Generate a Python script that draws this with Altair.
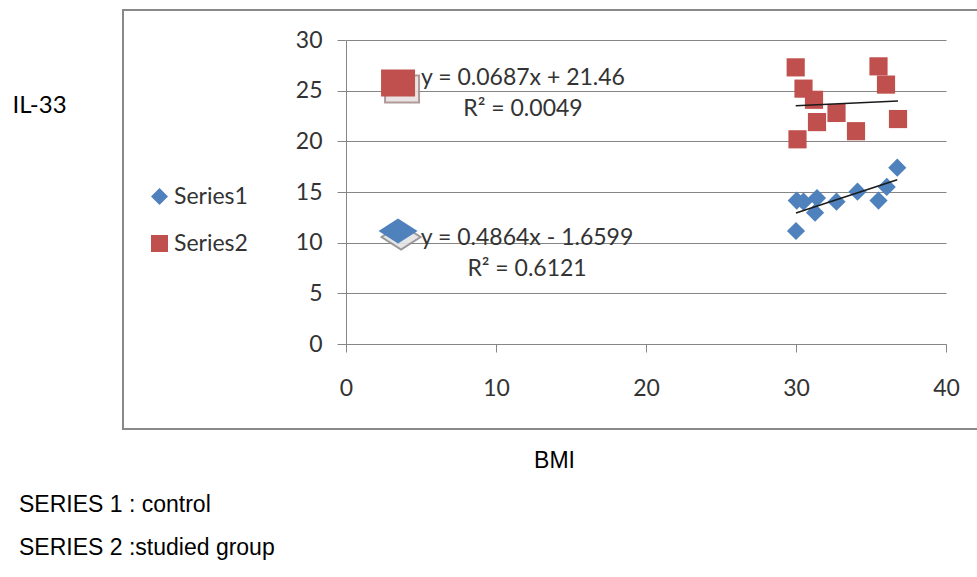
import altair as alt
import pandas as pd

# ---- data ----
series_names = ["Series1", "Series2"]
series_colors = ["#4F81BD", "#C0504D"]

bmi_s1 = [30.0, 30.05, 30.5, 31.27, 31.4, 32.7, 34.1, 35.5, 36.05, 36.75]
il33_s1 = [11.15, 14.15, 14.05, 12.96, 14.4, 14.05, 15.03, 14.15, 15.5, 17.4]

bmi_s2 = [29.98, 30.5, 31.2, 31.4, 30.1, 32.7, 34.0, 35.5, 36.0, 36.8]
il33_s2 = [27.3, 25.2, 24.1, 21.9, 20.2, 22.8, 21.0, 27.4, 25.6, 22.2]

slopes = [0.4864, 0.0687]
intercepts = [-1.6599, 21.46]
r_squared = [0.6121, 0.0049]

# trendline-label anchors (data units, as placed in the original chart)
key_x = [3.47, 3.47]
key_y = [11.15, 25.76]
label_x = [12.07, 11.8]
label_y = [9.77, 25.56]

x_ticks = [0, 10, 20, 30, 40]
y_ticks = [0, 5, 10, 15, 20, 25, 30]

notes = ["SERIES 1 : control", "SERIES 2 :studied group"]

# ---- tables ----
pts = pd.DataFrame({
    "BMI": bmi_s1 + bmi_s2,
    "IL33": il33_s1 + il33_s2,
    "series": [series_names[0]] * len(bmi_s1) + [series_names[1]] * len(bmi_s2),
})

trend_rows = []
for name, xs, m, b in zip(series_names, [bmi_s1, bmi_s2], slopes, intercepts):
    for xv in (min(xs), max(xs)):
        trend_rows.append({"series": name, "BMI": xv, "IL33": m * xv + b})
trend = pd.DataFrame(trend_rows)


def eq_text(m, b, r2):
    sign = "+" if b >= 0 else "-"
    return f"y = {m:.4f}x {sign} {abs(b):g}\nR\u00b2 = {r2:.4f}"


labels = pd.DataFrame({
    "series": series_names,
    "kx": key_x, "ky": key_y,
    "lx": label_x, "ly": label_y,
    "txt": [eq_text(m, b, r) for m, b, r in zip(slopes, intercepts, r_squared)],
})

FONT = "Lato"
GRID = "#868686"

xscale = alt.Scale(domain=[0, 40], nice=False, zero=False)
yscale = alt.Scale(domain=[0, 30], nice=False)

x_axis = alt.Axis(
    values=x_ticks, grid=False, domainColor=GRID, tickColor=GRID, tickSize=8,
    labelFont=FONT, labelFontSize=23, labelColor="#333333", labelPadding=25,
    labelFlush=False,
    title="BMI", titleFont="Liberation Sans", titleFontSize=23,
    titleFontWeight="normal", titleColor="#000000",
    titleX=208, titleY=123, titleAlign="center", titleBaseline="alphabetic",
)
y_axis = alt.Axis(
    values=y_ticks, grid=True, gridColor=GRID, domainColor=GRID, tickColor=GRID,
    tickSize=9, labelFont=FONT, labelFontSize=23, labelColor="#333333",
    labelPadding=15, labelFlush=False,
    title="IL-33", titleFont=FONT, titleFontSize=24, titleFontWeight="normal",
    titleColor="#000000", titleAngle=0, titleX=-334, titleY=72,
    titleAlign="left", titleBaseline="alphabetic",
)

legend = alt.Legend(
    title=None, orient="none", legendX=-198, legendY=145,
    labelFont=FONT, labelFontSize=23, labelColor="#333333",
    symbolSize=289, rowPadding=23, labelOffset=3,
)

frame = alt.Chart(alt.Data(values=[{}])).mark_rect(
    fill="transparent", stroke="#898989", strokeWidth=2
).encode(
    x=alt.value(-223), x2=alt.value(660), y=alt.value(-30), y2=alt.value(389)
)

points = alt.Chart(pts).mark_point(filled=True, opacity=1, size=330).encode(
    x=alt.X("BMI:Q", scale=xscale, axis=x_axis),
    y=alt.Y("IL33:Q", scale=yscale, axis=y_axis),
    color=alt.Color(
        "series:N",
        scale=alt.Scale(domain=series_names, range=series_colors),
        legend=legend,
    ),
    shape=alt.Shape(
        "series:N",
        scale=alt.Scale(domain=series_names, range=["diamond", "square"]),
        legend=legend,
    ),
)

trendlines = alt.Chart(trend).mark_line(color="#1a1a1a", strokeWidth=1.5).encode(
    x="BMI:Q", y="IL33:Q", detail="series:N"
)

RECT_PATH = "M-1,-0.79H1V0.79H-1Z"
DIAM_PATH = "M-1,0L0,-0.64L1,0L0,0.64Z"

s1_lab = alt.Chart(labels).transform_filter(alt.datum.series == series_names[0])
s2_lab = alt.Chart(labels).transform_filter(alt.datum.series == series_names[1])

key1_shadow = s1_lab.mark_point(
    shape=DIAM_PATH, filled=True, size=1521, fill="#e4e4e4", stroke="#8f8f8f",
    strokeWidth=2, opacity=0.9, xOffset=3, yOffset=6,
).encode(x="kx:Q", y="ky:Q")
key1 = s1_lab.mark_point(
    shape=DIAM_PATH, filled=True, size=1521, color=series_colors[0], opacity=1
).encode(x="kx:Q", y="ky:Q")
key2_shadow = s2_lab.mark_point(
    shape=RECT_PATH, filled=True, size=1156, fill="#e8e0e0", stroke="#a89090",
    strokeWidth=2, opacity=0.9, xOffset=4, yOffset=6,
).encode(x="kx:Q", y="ky:Q")
key2 = s2_lab.mark_point(
    shape=RECT_PATH, filled=True, size=1156, color=series_colors[1], opacity=1
).encode(x="kx:Q", y="ky:Q")

eq_labels = alt.Chart(labels).mark_text(
    font=FONT, fontSize=23, color="#333333", align="center",
    baseline="alphabetic", lineBreak="\n", lineHeight=31,
).encode(x="lx:Q", y="ly:Q", text="txt:N")

note1 = alt.Chart(alt.Data(values=[{}])).mark_text(
    font="Liberation Sans", fontSize=23, color="#000000", align="left",
    baseline="alphabetic",
).encode(x=alt.value(-327), y=alt.value(472), text=alt.value(notes[0]))
note2 = alt.Chart(alt.Data(values=[{}])).mark_text(
    font="Liberation Sans", fontSize=23, color="#000000", align="left",
    baseline="alphabetic",
).encode(x=alt.value(-327), y=alt.value(515), text=alt.value(notes[1]))

chart = alt.layer(
    frame, points, trendlines, key1_shadow, key1, key2_shadow, key2,
    eq_labels, note1, note2,
).properties(
    width=600, height=304,
    autosize=alt.AutoSizeParams(type="none"),
    padding={"left": 346, "top": 40, "right": 31, "bottom": 233},
).configure_view(strokeWidth=0)

chart.save("out.html", embed_options={"renderer": "svg", "actions": False})
